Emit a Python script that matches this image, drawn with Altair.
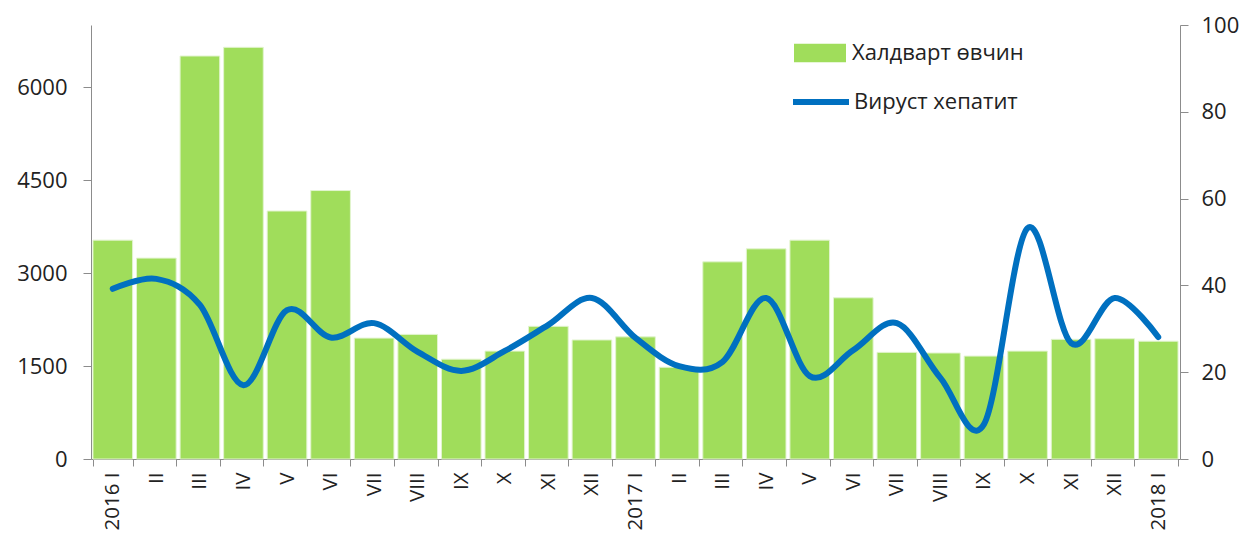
import altair as alt
import pandas as pd

labels = ["2016 I", "II", "III", "IV", "V", "VI", "VII", "VIII", "IX", "X", "XI", "XII",
          "2017 I", "II", "III", "IV", "V", "VI", "VII", "VIII", "IX", "X", "XI", "XII", "2018 I"]
infections = [3530, 3240, 6500, 6640, 4000, 4330, 1950, 2010, 1610, 1740, 2140, 1920,
              1970, 1480, 3180, 3390, 3530, 2600, 1720, 1710, 1660, 1740, 1930, 1940, 1900]
hepatitis = [39.2, 41.5, 35.5, 17.0, 34.3, 28.0, 31.3, 24.7, 20.3, 24.9, 30.9, 37.1,
             27.9, 21.4, 22.4, 37.1, 19.1, 25.1, 31.3, 18.7, 8.0, 53.2, 26.7, 37.1, 28.1]
series_names = ["Халдварт өвчин", "Вирусt хепатит".replace("t", "т")]

df = pd.DataFrame({
    "idx": list(range(len(labels))),
    "label": labels,
    "infections": infections,
    "hepatitis": hepatitis,
    "s1": series_names[0],
    "s2": series_names[1],
})

FONT = "Open Sans"
FS = 22
label_js = "[" + ",".join("'" + l + "'" for l in labels) + "]"

x_enc = alt.X(
    "idx:O",
    title=None,
    scale=alt.Scale(paddingInner=0.09, paddingOuter=0.045),
    axis=alt.Axis(
        labelExpr=label_js + "[datum.value]",
        labelAngle=-90,
        labelFont=FONT,
        labelFontSize=20.5,
        labelColor="#222222",
        labelPadding=6,
        tickSize=7,
        tickBand="extent",
        tickColor="#8c8c8c",
        domainColor="#8c8c8c",
        grid=False,
    ),
)

bars = alt.Chart(df).mark_bar(stroke="#e2f4cf", strokeWidth=1).encode(
    x=x_enc,
    y=alt.Y(
        "infections:Q",
        title=None,
        scale=alt.Scale(domain=[0, 7000], nice=False),
        axis=alt.Axis(
            values=[0, 1500, 3000, 4500, 6000],
            format="d",
            labelFont=FONT,
            labelFontSize=FS,
            labelColor="#222222",
            labelPadding=16,
            tickSize=8,
            tickColor="#8c8c8c",
            domainColor="#8c8c8c",
            grid=False,
        ),
    ),
    fill=alt.Fill(
        "s1:N",
        scale=alt.Scale(domain=[series_names[0]], range=["#a0dd5b"]),
        legend=alt.Legend(
            title=None,
            orient="none",
            legendX=703,
            legendY=2,
            symbolType="M-1,-0.36L1,-0.36L1,0.36L-1,0.36Z",
            symbolSize=2704,
            symbolStrokeWidth=0,
            labelFont=FONT,
            labelFontSize=FS,
            labelColor="#222222",
            labelOffset=6,
            labelLimit=400,
        ),
    ),
)

line = alt.Chart(df).mark_line(
    strokeWidth=6, interpolate="cardinal", tension=0, strokeCap="round"
).encode(
    x=alt.X("idx:O"),
    y=alt.Y(
        "hepatitis:Q",
        title=None,
        scale=alt.Scale(domain=[0, 100], nice=False),
        axis=alt.Axis(
            orient="right",
            values=[0, 20, 40, 60, 80, 100],
            labelFont=FONT,
            labelFontSize=FS,
            labelColor="#222222",
            labelPadding=13,
            tickSize=8,
            tickColor="#8c8c8c",
            domainColor="#8c8c8c",
            grid=False,
        ),
    ),
    stroke=alt.Stroke(
        "s2:N",
        scale=alt.Scale(domain=[series_names[1]], range=["#0070c0"]),
        legend=alt.Legend(
            title=None,
            orient="none",
            legendX=699,
            legendY=46,
            symbolType="stroke",
            symbolSize=3136,
            symbolStrokeWidth=6,
            labelFont=FONT,
            labelFontSize=FS,
            labelColor="#222222",
            labelOffset=2,
            labelLimit=400,
        ),
    ),
)

chart = alt.layer(bars, line).resolve_scale(y="independent").properties(
    width=1089,
    height=434,
    autosize=alt.AutoSizeParams(type="none"),
    padding={"left": 83, "top": 17, "right": 60, "bottom": 74},
).configure_view(stroke=None)

chart.save("out.html", embed_options={"renderer": "svg", "actions": False})
